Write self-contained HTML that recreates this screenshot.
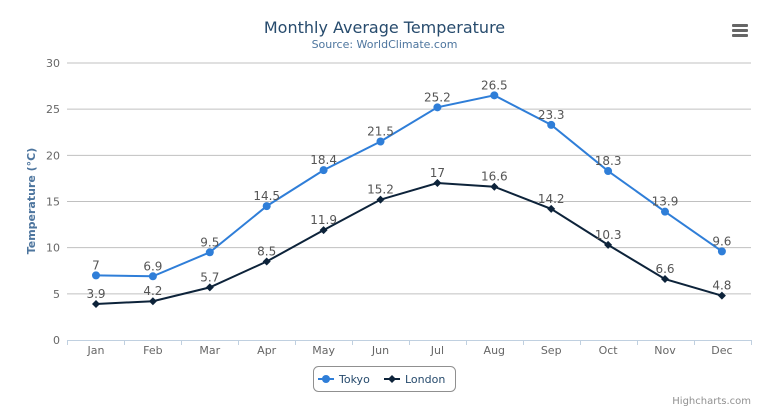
<!DOCTYPE html>
<html><head><meta charset="utf-8"><style>
html,body{margin:0;padding:0;background:#fff;}
svg{display:block;font-family:"DejaVu Sans","Liberation Sans",sans-serif;}
</style></head><body>
<svg id="c" width="769" height="416" xmlns="http://www.w3.org/2000/svg">
<rect x="0" y="0" width="769" height="416" fill="#fff"/>
<text x="384.5" y="33" text-anchor="middle" font-size="16" fill="#274b6d">Monthly Average Temperature</text>
<text x="384.5" y="48" text-anchor="middle" font-size="11" fill="#4d759e">Source: WorldClimate.com</text>
<g fill="#666">
<rect x="732" y="24" width="16" height="3" rx="1"/>
<rect x="732" y="29" width="16" height="3" rx="1"/>
<rect x="732" y="34" width="16" height="3" rx="1"/>
</g>
<text transform="translate(35,201) rotate(-90)" text-anchor="middle" font-size="11" font-weight="bold" fill="#4d759e">Temperature (°C)</text>
<g id="g"></g>
<rect x="313.5" y="366.5" width="142" height="25" rx="5" fill="none" stroke="#909090"/>
<line x1="318" y1="379" x2="334" y2="379" stroke="#2f7ed8" stroke-width="2"/>
<circle cx="326" cy="379" r="4" fill="#2f7ed8"/>
<text x="339" y="383" font-size="11" fill="#274b6d">Tokyo</text>
<line x1="384" y1="379" x2="400" y2="379" stroke="#0d233a" stroke-width="2"/>
<path d="M392 375 L396 379 L392 383 L388 379Z" fill="#0d233a"/>
<text x="405" y="383" font-size="11" fill="#274b6d">London</text>
<text x="751" y="404" text-anchor="end" font-size="10" fill="#909090">Highcharts.com</text>
</svg>
<script>
var g=document.getElementById('g'),h='';
function Y(v){return 340-9.233*v;}
function X(i){return 96+i*56.9;}
for(var k=0;k<=6;k++){var y=Y(k*5);if(k>0)h+='<line x1="67" x2="751" y1="'+y+'" y2="'+y+'" stroke="#C0C0C0"/>';
h+='<text x="60" y="'+(y+4)+'" text-anchor="end" font-size="11" fill="#666">'+(k*5)+'</text>';}
h+='<line x1="67" x2="751" y1="340.5" y2="340.5" stroke="#C0D0E0"/>';
var m=["Jan","Feb","Mar","Apr","May","Jun","Jul","Aug","Sep","Oct","Nov","Dec"];
for(var i=0;i<=12;i++){var x=67.5+i*57;h+='<line x1="'+x+'" x2="'+x+'" y1="340" y2="345" stroke="#C0D0E0"/>';}
for(var i=0;i<12;i++)h+='<text x="'+X(i)+'" y="354" text-anchor="middle" font-size="11" fill="#666">'+m[i]+'</text>';
var T=[7,6.9,9.5,14.5,18.4,21.5,25.2,26.5,23.3,18.3,13.9,9.6],L=[3.9,4.2,5.7,8.5,11.9,15.2,17,16.6,14.2,10.3,6.6,4.8];
function s(d,c,dia){var p='';for(var i=0;i<12;i++)p+=(i?'L':'M')+X(i)+' '+Y(d[i]);
h+='<path d="'+p+'" fill="none" stroke="'+c+'" stroke-width="2"/>';
for(var i=0;i<12;i++){var x=X(i),y=Y(d[i]);
h+=dia?'<path d="M'+x+' '+(y-4)+'L'+(x+4)+' '+y+'L'+x+' '+(y+4)+'L'+(x-4)+' '+y+'Z" fill="'+c+'"/>':'<circle cx="'+x+'" cy="'+y+'" r="4" fill="'+c+'"/>';
h+='<text x="'+x+'" y="'+(y-6)+'" text-anchor="middle" font-size="12" fill="#555">'+d[i]+'</text>';}}
s(T,"#2f7ed8",0);s(L,"#0d233a",1);
g.innerHTML=h;
</script>
</body></html>
